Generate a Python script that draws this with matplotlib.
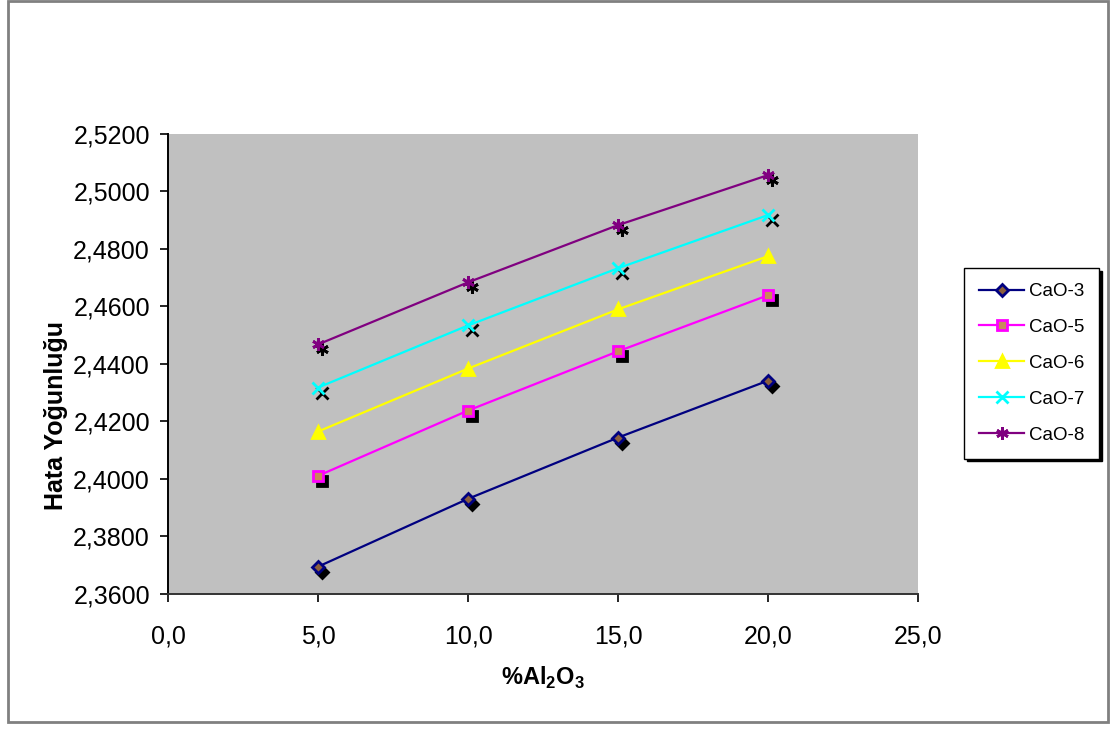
import matplotlib
matplotlib.use("Agg")
import matplotlib.pyplot as plt
from matplotlib.patches import Rectangle
from matplotlib.ticker import FuncFormatter, MultipleLocator
from matplotlib.transforms import offset_copy

plt.rcParams['font.family'] = ['Liberation Sans', 'DejaVu Sans']

# %Al2O3 içeriği
al2o3 = [5.0, 10.0, 15.0, 20.0]

cao_3 = [2.3695, 2.3931, 2.4144, 2.4342]
cao_5 = [2.4011, 2.4238, 2.4444, 2.4639]
cao_6 = [2.4165, 2.4384, 2.4590, 2.4775]
cao_7 = [2.4318, 2.4534, 2.4733, 2.4918]
cao_8 = [2.4468, 2.4684, 2.4883, 2.5057]

labels = ["CaO-3", "CaO-5", "CaO-6", "CaO-7", "CaO-8"]
series = [cao_3, cao_5, cao_6, cao_7, cao_8]

# çizgi rengi, işaret, işaret içi, işaret kenarı, boyut, gölge var mı
styles = [
    ("#000080", "D", "#8b5e3c", "#000080", 6, True),
    ("#ff00ff", "s", "#c8895a", "#ff00ff", 7, True),
    ("#ffff00", "^", "#ffff00", "#ffff00", 8.5, False),
    ("#00ffff", "x", "#00ffff", "#00ffff", 8, True),
    ("#800080", (6, 2, 0), "#800080", "#800080", 9, True),
]

fig = plt.figure(figsize=(11.15, 7.29), dpi=100)
ax = fig.add_axes([0.1507, 0.1852, 0.6726, 0.6310])
ax.set_facecolor("#c0c0c0")

for vals, lab, (col, mk, fc, ec, ms, shadow) in zip(series, labels, styles):
    if shadow:
        tr = offset_copy(ax.transData, fig=fig, x=4, y=-5, units="dots")
        ax.plot(al2o3, vals, linestyle="none", marker=mk, markersize=ms,
                color="black", markerfacecolor="black", markeredgecolor="black",
                markeredgewidth=2, transform=tr, zorder=2)
    ax.plot(al2o3, vals, color=col, linewidth=1.6, marker=mk, markersize=ms,
            markerfacecolor=fc, markeredgecolor=ec, markeredgewidth=2,
            label=lab, zorder=3)

ax.set_xlim(0, 25)
ax.set_ylim(2.36, 2.52)
ax.xaxis.set_major_locator(MultipleLocator(5))
ax.yaxis.set_major_locator(MultipleLocator(0.02))
ax.xaxis.set_major_formatter(FuncFormatter(lambda v, p: f"{v:.1f}".replace(".", ",")))
ax.yaxis.set_major_formatter(FuncFormatter(lambda v, p: f"{v:.4f}".replace(".", ",")))
ax.tick_params(axis="both", direction="out", length=6, width=1.2, labelsize=18,
               colors="black")
ax.tick_params(axis="x", pad=16)
ax.tick_params(axis="y", pad=7)

for side in ["top", "right"]:
    ax.spines[side].set_visible(False)
ax.spines["left"].set_linewidth(1.4)
ax.spines["bottom"].set_linewidth(1.4)
ax.spines["bottom"].set_color("#333333")

ax.set_xlabel(r"%Al$_\mathregular{2}$O$_\mathregular{3}$", fontsize=17,
              fontweight="bold", labelpad=12)
ax.set_ylabel("Hata Yoğunluğu", fontsize=18, fontweight="bold")
ax.yaxis.set_label_coords(-0.133, 0.387)

leg = ax.legend(loc="upper left", bbox_to_anchor=(0.8646, 0.6324),
                bbox_transform=fig.transFigure, borderaxespad=0, fontsize=13.5,
                frameon=True, fancybox=False, edgecolor="black", framealpha=1,
                shadow={"color": "black", "alpha": 1}, handlelength=2.4,
                labelspacing=1.0, borderpad=0.8, handletextpad=0.25)
leg.get_frame().set_linewidth(1.0)

# dış çerçeve
fig.add_artist(Rectangle((8 / 1115, 7 / 729), 1100 / 1115, 721 / 729,
                         transform=fig.transFigure, fill=False,
                         edgecolor="#808080", linewidth=2))

fig.savefig("out.png", dpi=100)
